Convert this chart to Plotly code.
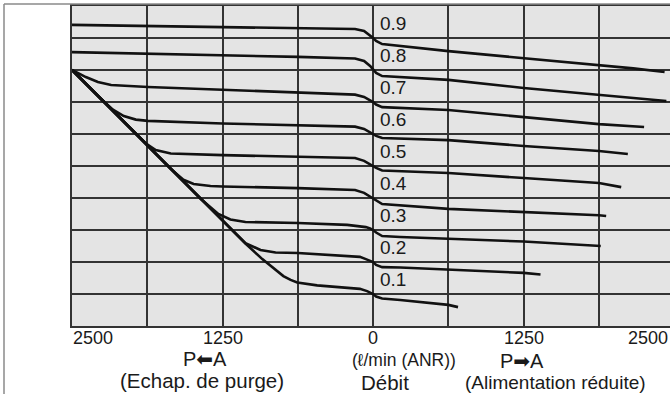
import plotly.graph_objects as go

# ---- data: flow (l/min ANR; negative = P<-A exhaust, positive = P->A supply) vs outlet pressure (MPa)
set_pressures = [0.9, 0.8, 0.7, 0.6, 0.5, 0.4, 0.3, 0.2, 0.1]

flow_09 = [-2500, -1250, -625, -150, -75, -25, 0, 25, 75, 625, 1250, 1875, 2160, 2420]
pres_09 = [0.941, 0.935, 0.931, 0.928, 0.922, 0.909, 0.900, 0.891, 0.881, 0.859, 0.8375, 0.814, 0.805, 0.794]

flow_08 = [-2500, -1250, -625, -150, -75, -25, 0, 25, 75, 625, 1250, 1875, 2160, 2435]
pres_08 = [0.856, 0.847, 0.841, 0.836, 0.828, 0.8125, 0.800, 0.791, 0.781, 0.769, 0.744, 0.722, 0.7125, 0.703]

flow_07 = [-2500, -2385, -2285, -2175, -1870, -1250, -625, -150, -75, -25, 0, 25, 75, 625, 1250, 1875, 2250]
pres_07 = [0.800, 0.778, 0.7625, 0.753, 0.747, 0.739, 0.731, 0.723, 0.716, 0.706, 0.700, 0.692, 0.684, 0.675, 0.653, 0.631, 0.622]

flow_06 = [-2500, -2260, -2160, -2070, -1970, -1870, -1250, -625, -150, -75, -25, 0, 25, 75, 625, 1250, 1875, 2115]
pres_06 = [0.800, 0.710, 0.676, 0.656, 0.645, 0.641, 0.633, 0.628, 0.623, 0.616, 0.606, 0.600, 0.594, 0.5875, 0.581, 0.5625, 0.547, 0.5375]

flow_05 = [-2500, -2175, -1970, -1885, -1805, -1680, -1250, -625, -150, -75, -25, 0, 25, 75, 625, 1250, 1875, 2060]
pres_05 = [0.800, 0.678, 0.600, 0.570, 0.550, 0.539, 0.534, 0.528, 0.525, 0.516, 0.505, 0.500, 0.494, 0.486, 0.478, 0.4625, 0.447, 0.434]

flow_04 = [-2500, -2010, -1680, -1575, -1490, -1350, -1250, -625, -150, -75, -25, 0, 25, 75, 625, 1250, 1875, 1935]
pres_04 = [0.800, 0.616, 0.491, 0.457, 0.444, 0.4375, 0.436, 0.431, 0.425, 0.416, 0.405, 0.400, 0.394, 0.381, 0.366, 0.357, 0.346, 0.344]

flow_03 = [-2500, -1845, -1430, -1285, -1185, -1060, -625, -215, -110, -60, -25, 0, 25, 75, 225, 625, 1250, 1890]
pres_03 = [0.800, 0.553, 0.397, 0.350, 0.333, 0.325, 0.322, 0.316, 0.3125, 0.309, 0.305, 0.300, 0.292, 0.281, 0.278, 0.272, 0.264, 0.250]

flow_02 = [-2500, -1845, -1265, -1060, -935, -810, -625, -215, -110, -60, -25, 0, 25, 75, 225, 625, 1250, 1390]
pres_02 = [0.800, 0.553, 0.335, 0.259, 0.2375, 0.2297, 0.228, 0.219, 0.216, 0.209, 0.203, 0.200, 0.191, 0.184, 0.183, 0.177, 0.166, 0.161]

flow_01 = [-2500, -1845, -1265, -1060, -920, -830, -745, -685, -630, -465, -215, -110, -50, -15, 0, 25, 75, 225, 625, 705]
pres_01 = [0.800, 0.553, 0.335, 0.258, 0.209, 0.181, 0.156, 0.144, 0.136, 0.127, 0.119, 0.116, 0.109, 0.103, 0.100, 0.092, 0.086, 0.081, 0.066, 0.059]

curves = [(flow_09, pres_09), (flow_08, pres_08), (flow_07, pres_07), (flow_06, pres_06),
          (flow_05, pres_05), (flow_04, pres_04), (flow_03, pres_03), (flow_02, pres_02),
          (flow_01, pres_01)]

tick_vals = [-2500, -1250, 0, 1250, 2500]
tick_text = ["2500", "1250", "0", "1250", "2500"]

X_MIN, X_MAX = -2500, 2465
FONT = "Liberation Sans, Arial, sans-serif"
TXT = "#1a1a1a"

fig = go.Figure()
for fx, py in curves:
    fig.add_trace(go.Scatter(x=fx, y=py, mode="lines",
                             line=dict(color="#111111", width=2.6),
                             hoverinfo="skip", showlegend=False))

ann = []
# pressure labels
for p in set_pressures:
    ann.append(dict(x=40, y=p + 0.046, xref="x", yref="y", text=f"{p:.1f}",
                    showarrow=False, xanchor="left", yanchor="middle",
                    font=dict(family=FONT, size=19, color=TXT)))
# tick labels
for v, t in zip(tick_vals, tick_text):
    base = dict(y=0, yref="paper", text=t, showarrow=False, yanchor="middle",
                yshift=-12, borderpad=0, font=dict(family=FONT, size=18, color=TXT))
    if v <= X_MIN:
        ann.append(dict(base, x=v, xref="x", xanchor="left"))
    elif v >= X_MAX:
        ann.append(dict(base, x=1, xref="paper", xanchor="right", xshift=-1))
    else:
        ann.append(dict(base, x=v, xref="x", xanchor="center"))

def txt(x, yshift, text, size):
    return dict(x=x, y=0, xref="x", yref="paper", text=text, showarrow=False,
                xanchor="center", yanchor="middle", yshift=yshift, borderpad=0,
                font=dict(family=FONT, size=size, color=TXT))

ARROW_L = "<span style='font-family:DejaVu Sans'>⬅</span>"
ARROW_R = "<span style='font-family:DejaVu Sans'>➡</span>"

ann += [
    txt(-1394, -33, "P" + ARROW_L + "A", 20),
    txt(-1419, -54, "(Echap. de purge)", 20.5),
    txt(257, -34, "(ℓ/min (ANR))", 17.5),
    txt(100, -56, "Débit", 20.5),
    txt(1237, -35, "P" + ARROW_R + "A", 20),
    txt(1511, -56, "(Alimentation réduite)", 19),
]

shapes = [
    dict(type="line", xref="paper", yref="paper", x0=-0.1137, x1=-0.1137, y0=-0.25, y1=1.00625,
         line=dict(color="#8a8a8a", width=1.5)),
    dict(type="line", xref="paper", yref="paper", x0=-0.1137, x1=1.01, y0=1.00625, y1=1.00625,
         line=dict(color="#8a8a8a", width=1.5)),
]

fig.update_layout(
    width=670, height=394,
    margin=dict(l=72, r=0, t=6, b=68),
    paper_bgcolor="white", plot_bgcolor="#e4e4e4",
    annotations=ann, shapes=shapes,
    xaxis=dict(range=[X_MIN, X_MAX], tick0=0, dtick=625, showgrid=True,
               gridcolor="#333333", gridwidth=1.5, showticklabels=False, ticks="",
               zeroline=False, showline=True, linecolor="#333333", linewidth=2, mirror=True),
    yaxis=dict(range=[0, 1], tick0=0, dtick=0.1, showgrid=True,
               gridcolor="#333333", gridwidth=1.5, showticklabels=False, ticks="",
               zeroline=False, showline=True, linecolor="#333333", linewidth=2),
)

fig.write_html("out.html")
